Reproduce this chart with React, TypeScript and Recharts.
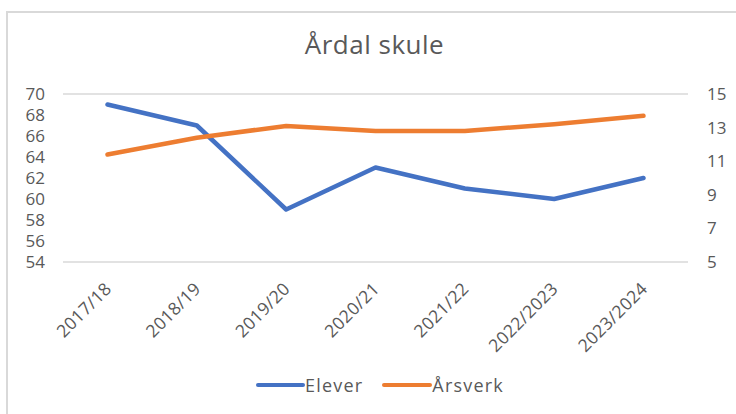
import React from "react";
import { LineChart, Line, XAxis, YAxis, CartesianGrid } from "recharts";

const categories = ["2017/18", "2018/19", "2019/20", "2020/21", "2021/22", "2022/2023", "2023/2024"];
const elever = [69, 67, 59, 63, 61, 60, 62];
const arsverk = [11.4, 12.4, 13.1, 12.8, 12.8, 13.2, 13.7];
const leftTicks = [54, 56, 58, 60, 62, 64, 66, 68, 70];
const rightTicks = [5, 7, 9, 11, 13, 15];

const data = categories.map((c, i) => ({ name: c, Elever: elever[i], Årsverk: arsverk[i] }));

const FONT = "'Open Sans', sans-serif";
const GRAY = "#595959";

const XTick = (props: any) => {
  const { x, y, payload } = props;
  return (
    <g transform={`translate(${x + 5},${y + 20}) rotate(-45)`}>
      <text x={0} y={0} textAnchor="end" fill={GRAY} fontSize={17.5} fontFamily={FONT} letterSpacing={0.3}>
        {payload.value}
      </text>
    </g>
  );
};

const LegendContent = () => (
  <div style={{ position: "absolute", left: 256, top: 373, display: "flex", alignItems: "center", fontFamily: FONT, fontSize: 18, color: GRAY, whiteSpace: "nowrap" }}>
    <span style={{ display: "inline-block", width: 49, height: 4, background: "#4472C4", borderRadius: 2 }} />
    <span style={{ marginRight: 19, letterSpacing: 1.2 }}>Elever</span>
    <span style={{ display: "inline-block", width: 50, height: 4, background: "#ED7D31", borderRadius: 2 }} />
    <span style={{ letterSpacing: 1.2 }}>Årsverk</span>
  </div>
);

export default function App() {
  return (
    <div style={{ position: "fixed", left: 0, top: 0, width: 736, height: 414, overflow: "hidden", background: "#fff" }}>
      <div style={{ position: "absolute", left: 6, top: 11, width: 760, height: 440, border: "2px solid #d9d9d9" }} />
      <div style={{ position: "absolute", left: 0, top: 26, width: 749, textAlign: "center", fontFamily: FONT, fontSize: 26, color: GRAY, letterSpacing: 0.5 }}>
        Årdal skule
      </div>
      <LegendContent />
      <div style={{ position: "absolute", left: 0, top: 0 }}>
        <LineChart width={736} height={414} data={data} margin={{ top: 94, right: 0, left: 0, bottom: 62 }}>
          <CartesianGrid vertical={false} stroke="#d9d9d9" strokeWidth={1.5} />
          <XAxis dataKey="name" axisLine={false} tickLine={false} tick={<XTick />} height={90} interval={0} padding={{ left: 44.5, right: 44.5 }} />
          <YAxis yAxisId="left" orientation="left" domain={[54, 70]} ticks={leftTicks} interval={0} width={63} axisLine={false} tickLine={false} tickSize={0} tickMargin={18} tick={{ fill: GRAY, fontSize: 17, fontFamily: FONT }} />
          <YAxis yAxisId="right" orientation="right" domain={[5, 15]} ticks={rightTicks} interval={0} width={48} axisLine={false} tickLine={false} tickSize={0} tickMargin={19} tick={{ fill: GRAY, fontSize: 17, fontFamily: FONT }} />
          <Line yAxisId="left" dataKey="Elever" stroke="#4472C4" strokeWidth={4.5} dot={false} isAnimationActive={false} strokeLinejoin="round" strokeLinecap="round" />
          <Line yAxisId="right" dataKey="Årsverk" stroke="#ED7D31" strokeWidth={4.5} dot={false} isAnimationActive={false} strokeLinejoin="round" strokeLinecap="round" />
        </LineChart>
      </div>
    </div>
  );
}
